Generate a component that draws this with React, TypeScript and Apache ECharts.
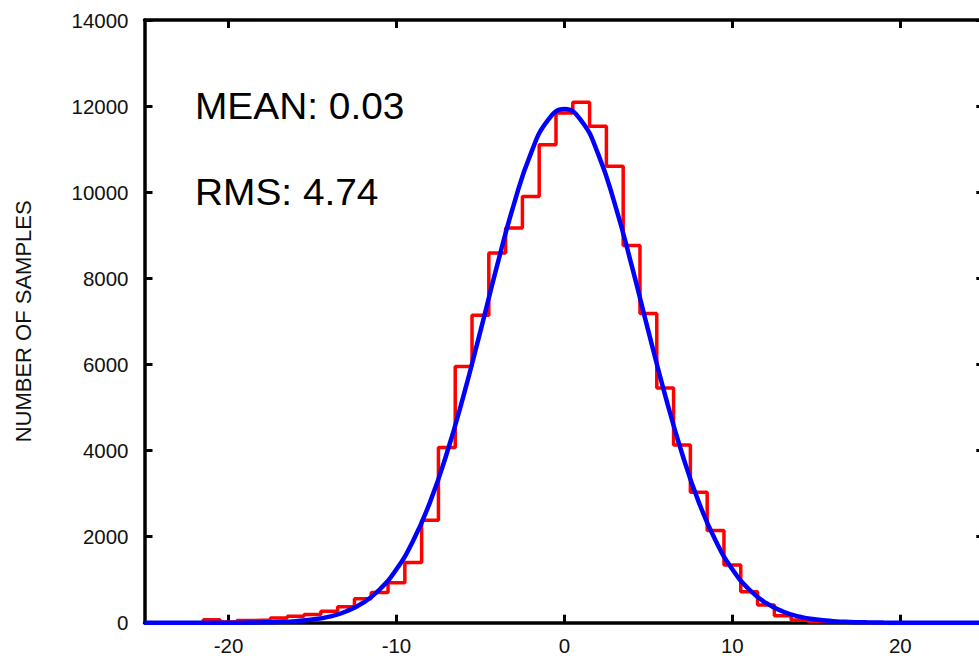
import React, { useEffect, useRef } from "react";
import * as echarts from "echarts";

// Histogram bins (centres) and counts
const binCenters = [
  -24, -23, -22, -21, -20, -19, -18, -17, -16, -15, -14, -13, -12, -11, -10, -9, -8, -7, -6, -5, -4, -3, -2, -1,
  0, 1, 2, 3, 4, 5, 6, 7, 8, 9, 10, 11, 12, 13, 14, 15, 16, 17, 18, 19, 20, 21, 22, 23, 24,
];
const binCounts = [
  0, 0, 0, 70, 15, 50, 60, 110, 150, 190, 265, 372, 555, 700, 930, 1400, 2380, 4070, 5950, 7140, 8590, 9170, 9900, 11100,
  11840, 12090, 11530, 10600, 8760, 7180, 5450, 4130, 3030, 2140, 1340, 720, 410, 160, 60, 30, 20, 10, 0, 0, 0, 0, 0, 0, 0,
];

// Fitted curve, read at integer x
const fitX = [
  -25, -24, -23, -22, -21, -20, -19, -18, -17, -16, -15, -14, -13, -12, -11, -10, -9, -8, -7, -6, -5, -4, -3, -2, -1,
  0, 1, 2, 3, 4, 5, 6, 7, 8, 9, 10, 11, 12, 13, 14, 15, 16, 17, 18, 19, 20, 21, 22, 23, 24, 25,
];
const fitY = [
  0, 0, 0, 0, 0, 1, 3, 8, 17, 36, 73, 141, 260, 458, 771, 1241, 1908, 2802, 3936, 5282, 6774, 8306, 9731, 10897, 11663,
  11930, 11663, 10897, 9731, 8306, 6774, 5282, 3936, 2802, 1908, 1241, 771, 458, 260, 141, 73, 36, 17, 8, 3, 1, 0, 0, 0, 0, 0,
];

const xTickValues = [-20, -10, 0, 10, 20];
const statTexts = ["MEAN: 0.03", "RMS: 4.74"];
const yAxisTitle = "NUMBER OF SAMPLES";

const FONT = "'Liberation Sans', Arial, Helvetica, sans-serif";

export default function App() {
  const ref = useRef<HTMLDivElement>(null);

  useEffect(() => {
    if (!ref.current) return;
    const chart = echarts.init(ref.current, null, { renderer: "svg" });

    const stepData: number[][] = binCenters.map((c, i) => [c - 0.5, binCounts[i]]);
    stepData.push([binCenters[binCenters.length - 1] + 0.5, 0]);
    const fitData = fitX.map((x, i) => [x, fitY[i]]);

    const axisLine = { show: true, onZero: false, lineStyle: { color: "#000", width: 3.5 } };
    const tickStyle = { color: "#000", width: 3 };
    const labelStyle = { color: "#111", fontSize: 20.5, fontFamily: FONT, formatter: (v: number) => String(v) };

    const option: any = {
      animation: false,
      backgroundColor: "#fff",
      grid: { left: 144.5, right: 5.7, top: 20, bottom: 33.3, containLabel: false },
      xAxis: [
        {
          type: "value",
          min: -25,
          max: 25,
          position: "bottom",
          axisLine,
          axisTick: { show: true, inside: true, length: 8, customValues: xTickValues, lineStyle: tickStyle },
          axisLabel: { show: true, customValues: xTickValues, margin: 12, ...labelStyle },
          splitLine: { show: false },
        },
        {
          type: "value",
          min: -25,
          max: 25,
          position: "top",
          axisLine,
          axisTick: { show: true, inside: true, length: 8, customValues: xTickValues, lineStyle: tickStyle },
          axisLabel: { show: false },
          splitLine: { show: false },
        },
      ],
      yAxis: [
        {
          type: "value",
          min: 0,
          max: 14000,
          interval: 2000,
          position: "left",
          axisLine,
          axisTick: { show: true, inside: true, length: 8, lineStyle: tickStyle },
          axisLabel: { show: true, margin: 16, ...labelStyle },
          splitLine: { show: false },
          name: yAxisTitle,
          nameLocation: "middle",
          nameRotate: 90,
          nameGap: 110,
          nameTextStyle: { color: "#111", fontSize: 22, fontFamily: FONT },
        },
        {
          type: "value",
          min: 0,
          max: 14000,
          interval: 2000,
          position: "right",
          axisLine,
          axisTick: { show: true, inside: true, length: 8, lineStyle: tickStyle },
          axisLabel: { show: false },
          splitLine: { show: false },
        },
      ],
      series: [
        {
          type: "line",
          data: stepData,
          step: "end",
          showSymbol: false,
          symbol: "none",
          lineStyle: { color: "#ff0000", width: 3.5 },
          z: 3,
        },
        {
          type: "line",
          data: fitData,
          smooth: true,
          showSymbol: false,
          symbol: "none",
          lineStyle: { color: "#0000ff", width: 4.5 },
          z: 4,
        },
      ],
      graphic: statTexts.map((t, i) => ({
        type: "text",
        x: 195,
        y: 106 + i * 86,
        scaleX: 1.05,
        style: {
          text: t,
          fontSize: 37,
          fontFamily: FONT,
          fill: "#000",
          align: "left",
          verticalAlign: "middle",
        },
        z: 10,
      })),
    };

    chart.setOption(option);
    return () => chart.dispose();
  }, []);

  return (
    <div
      style={{
        position: "fixed",
        left: 0,
        top: 0,
        width: 979,
        height: 656,
        overflow: "hidden",
        background: "#fff",
      }}
    >
      <div ref={ref} style={{ width: 990, height: 656 }} />
    </div>
  );
}
